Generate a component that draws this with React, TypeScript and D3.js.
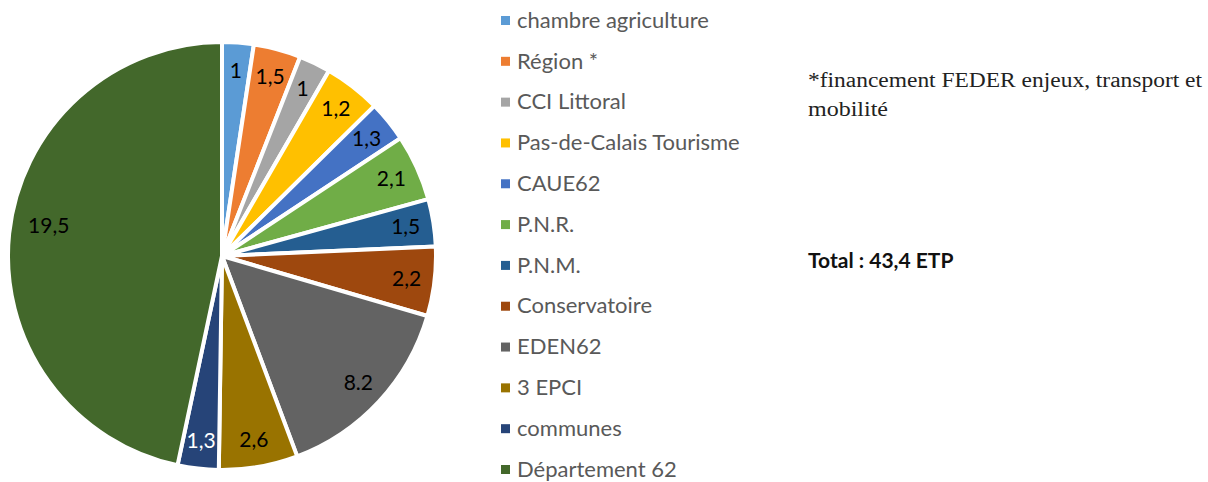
import React, { useEffect, useRef } from 'react';
import * as d3 from 'd3';

const categories = [
    'chambre agriculture', 'Région *', 'CCI Littoral', 'Pas-de-Calais Tourisme', 'CAUE62',
    'P.N.R.', 'P.N.M.', 'Conservatoire', 'EDEN62', '3 EPCI', 'communes', 'Département 62'
];
// slice sizes as drawn in the picture
const sliceValues = [1, 1.5, 1, 1.8, 1.3, 2.1, 1.5, 2.2, 6.2, 2.5, 1.3, 19.6];
// data labels as printed on the slices
const valueLabels = ['1', '1,5', '1', '1,2', '1,3', '2,1', '1,5', '2,2', '8.2', '2,6', '1,3', '19,5'];
const colors = [
    '#5B9BD5', '#ED7D31', '#A5A5A5', '#FFC000', '#4472C4', '#70AD47',
    '#255E91', '#9E480E', '#636363', '#997300', '#264478', '#43682B'
];
const labelColors = ['#000', '#000', '#000', '#000', '#000', '#000', '#000', '#000', '#000', '#000', '#fff', '#000'];

export default function App() {
    const ref = useRef<SVGSVGElement>(null);

    useEffect(() => {
        const svg = d3.select(ref.current);
        svg.selectAll('*').remove();

        const cx = 222, cy = 256, r = 214;
        const g = svg.append('g').attr('transform', `translate(${cx},${cy})`);

        const pie = d3.pie<number>().sort(null).value(d => d);
        const arcs = pie(sliceValues);
        const arc = d3.arc<d3.PieArcDatum<number>>().innerRadius(0).outerRadius(r);
        const labelArc = d3.arc<d3.PieArcDatum<number>>().innerRadius(186).outerRadius(186);

        g.selectAll('path')
            .data(arcs)
            .enter()
            .append('path')
            .attr('d', arc)
            .attr('fill', (d, i) => colors[i])
            .attr('stroke', '#fff')
            .attr('stroke-width', 4)
            .attr('stroke-linejoin', 'round');

        // the big slice's label sits a bit further in (Excel best fit)
        g.selectAll('text.lbl')
            .data(arcs)
            .enter()
            .append('text')
            .attr('class', 'lbl')
            .attr('transform', (d, i) => {
                const c = i === arcs.length - 1
                    ? d3.arc<d3.PieArcDatum<number>>().innerRadius(176).outerRadius(176).centroid({ ...d, startAngle: d.startAngle + 0.07, endAngle: d.endAngle + 0.07 })
                    : labelArc.centroid(d);
                return `translate(${c})`;
            })
            .attr('text-anchor', 'middle')
            .attr('dy', '0.35em')
            .attr('font-family', 'Lato, "Open Sans", sans-serif')
            .attr('font-size', 21)
            .attr('fill', (d, i) => labelColors[i])
            .text((d, i) => valueLabels[i]);

        // legend
        const ly = d3.scalePoint<string>().domain(categories).range([20, 469]);
        const legend = svg.append('g');
        const rows = legend.selectAll('g')
            .data(categories)
            .enter()
            .append('g')
            .attr('transform', d => `translate(0,${ly(d)})`);
        rows.append('rect')
            .attr('x', 501).attr('y', -4)
            .attr('width', 9).attr('height', 9)
            .attr('fill', (d, i) => colors[i]);
        rows.append('text')
            .attr('x', 517)
            .attr('dy', '0.35em')
            .attr('font-family', 'Lato, "Open Sans", sans-serif')
            .attr('font-size', 22)
            .attr('fill', '#595959')
            .text(d => d);

        // notes
        svg.append('text')
            .attr('x', 808).attr('y', 87)
            .attr('font-family', '"Liberation Serif", serif')
            .attr('font-size', 20)
            .attr('fill', '#222')
            .attr('textLength', 394)
            .attr('lengthAdjust', 'spacingAndGlyphs')
            .text('*financement FEDER enjeux, transport et');
        svg.append('text')
            .attr('x', 808).attr('y', 116)
            .attr('font-family', '"Liberation Serif", serif')
            .attr('font-size', 20)
            .attr('fill', '#222')
            .attr('textLength', 80)
            .attr('lengthAdjust', 'spacingAndGlyphs')
            .text('mobilité');
        svg.append('text')
            .attr('x', 808).attr('y', 268)
            .attr('font-family', 'Lato, sans-serif')
            .attr('font-weight', 'bold')
            .attr('font-size', 21)
            .attr('fill', '#111')
            .text('Total : 43,4 ETP');
    }, []);

    return (
        <svg ref={ref} width={1208} height={482}
            style={{ position: 'absolute', left: 0, top: 0, background: '#fff' }} />
    );
}
